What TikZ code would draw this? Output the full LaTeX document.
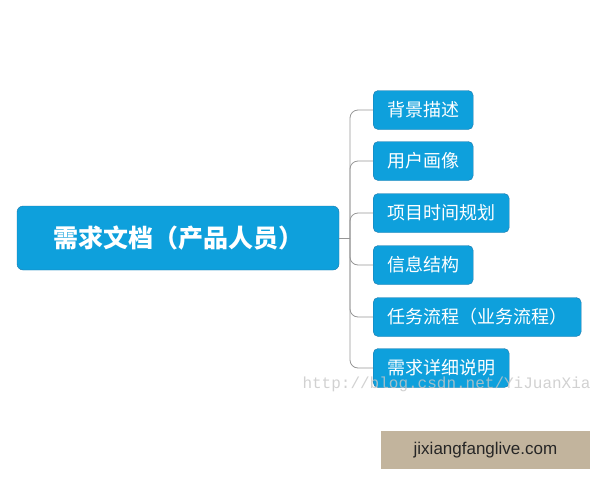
\documentclass[tikz,border=0pt]{standalone}
\usepackage{fontspec}
\setmainfont{Liberation Sans}
\newfontfamily\cjk{Noto Sans CJK SC}
\newfontfamily\wmfont{Liberation Mono}
\usetikzlibrary{calc}

\definecolor{boxblue}{RGB}{14,160,220}
\definecolor{boxedge}{RGB}{30,120,170}
\definecolor{linegray}{RGB}{150,150,150}
\definecolor{tagbg}{RGB}{194,180,157}

\begin{document}
\begin{tikzpicture}[x=1pt,y=-1pt,
    root/.style={draw=boxedge, fill=boxblue, rounded corners=6pt, text=white,
        minimum width=322pt, minimum height=64pt,
        font=\cjk\bfseries\fontsize{25}{25}\selectfont},
    topic/.style={draw=boxedge, fill=boxblue, rounded corners=5pt, text=white,
        anchor=west, minimum height=39pt, inner xsep=14pt,
        font=\cjk\fontsize{18}{18}\selectfont},
    branch/.style={draw=linegray, line width=0.8pt, rounded corners=8pt},
    wm/.style={anchor=west, text=gray!45, opacity=0.8,
        font=\wmfont\fontsize{16}{16}\selectfont},
    tag/.style={fill=tagbg, text=black!85, minimum width=209pt, minimum height=38pt,
        font=\fontsize{17}{17}\selectfont}]
    \useasboundingbox (0,0) rectangle (600,480);

    % central topic
    \node[root] (need) at (178,238) {需求文档（产品人员）};
    \coordinate (hub) at (350,238);

    % sub topics
    \node[topic] (bg) at (373,110) {背景描述};
    \node[topic] (user) at (373,161) {用户画像};
    \node[topic] (plan) at (373,213) {项目时间规划};
    \node[topic] (info) at (373,265) {信息结构};
    \node[topic] (task) at (373,317) {任务流程（业务流程）};
    \node[topic] (detail) at (373,368) {需求详细说明};

    % connectors
    \draw[branch] (need.east) -- (hub);
    \foreach \n in {bg,user,plan,info,task,detail}
        \draw[branch] (hub) |- (\n.west);

    % watermarks
    \node[wm] (mark) at (299,384) {http://blog.csdn.net/YiJuanXia};
    \node[tag] (site) at (485.5,450) {jixiangfanglive.com};
\end{tikzpicture}
\end{document}
